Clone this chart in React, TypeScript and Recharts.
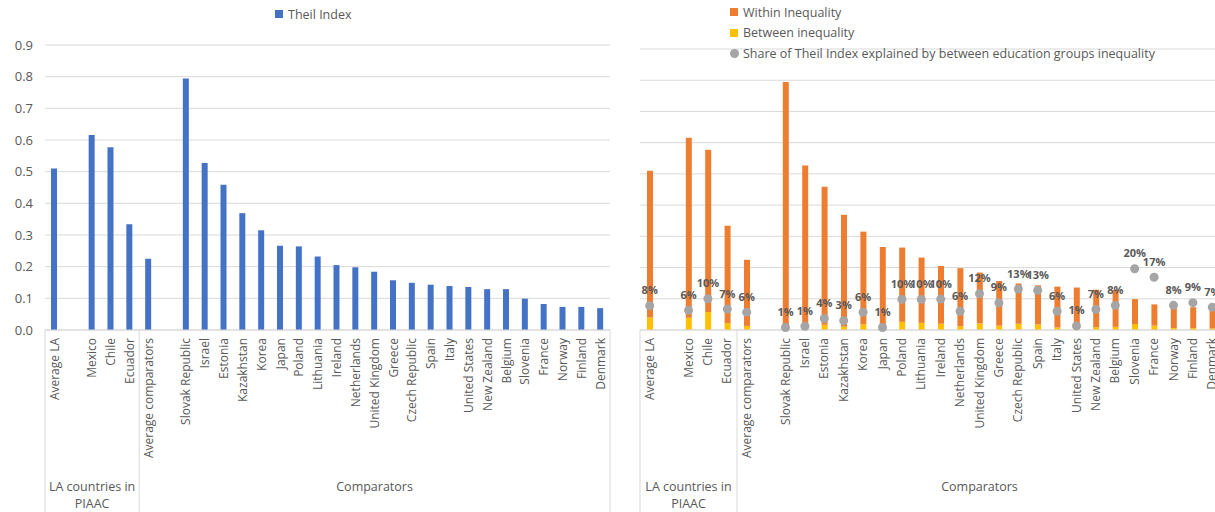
import React from "react";
import { BarChart, ComposedChart, Bar, Scatter, XAxis, YAxis, CartesianGrid, Legend, LabelList } from "recharts";

const countries = [
  "Average LA", "", "Mexico", "Chile", "Ecuador", "Average comparators", "",
  "Slovak Republic", "Israel", "Estonia", "Kazakhstan", "Korea", "Japan", "Poland",
  "Lithuania", "Ireland", "Netherlands", "United Kingdom", "Greece", "Czech Republic",
  "Spain", "Italy", "United States", "New Zealand", "Belgium", "Slovenia", "France",
  "Norway", "Finland", "Denmark",
];

const theil = [
  0.510, null, 0.616, 0.577, 0.334, 0.225, null,
  0.794, 0.527, 0.459, 0.369, 0.315, 0.266, 0.264,
  0.232, 0.205, 0.198, 0.184, 0.157, 0.149,
  0.143, 0.139, 0.136, 0.129, 0.129, 0.099, 0.082,
  0.073, 0.073, 0.069,
];

const within = [
  0.470, null, 0.577, 0.519, 0.312, 0.212, null,
  0.788, 0.521, 0.442, 0.358, 0.297, 0.264, 0.238,
  0.209, 0.185, 0.186, 0.163, 0.143, 0.129,
  0.125, 0.131, 0.134, 0.120, 0.119, 0.080, 0.068,
  0.067, 0.067, 0.064,
];

const between = [
  0.040, null, 0.039, 0.058, 0.022, 0.013, null,
  0.006, 0.006, 0.017, 0.011, 0.018, 0.002, 0.026,
  0.023, 0.020, 0.012, 0.021, 0.014, 0.020,
  0.018, 0.008, 0.002, 0.009, 0.010, 0.019, 0.014,
  0.006, 0.006, 0.005,
];

const share = [
  0.078, null, 0.063, 0.100, 0.067, 0.057, null,
  0.008, 0.012, 0.037, 0.030, 0.057, 0.008, 0.098,
  0.098, 0.099, 0.060, 0.116, 0.087, 0.131,
  0.127, 0.060, 0.013, 0.066, 0.079, 0.196, 0.169,
  0.079, 0.0875, 0.073,
];

const groups = [
  { label: ["LA countries in", "PIAAC"], size: 5 },
  { label: ["Comparators"], size: 25 },
];

const yTicks = [0, 0.1, 0.2, 0.3, 0.4, 0.5, 0.6, 0.7, 0.8, 0.9];

const leftData = countries.map((name, i) => ({ name, theil: theil[i] }));
const rightData = countries.map((name, i) => ({
  name,
  within: within[i],
  between: between[i],
  share: share[i],
}));

const FONT = "'Open Sans', sans-serif";
const TEXT = "#595959";
const GRID = "#D9D9D9";

const CategoryTick = (props: any) => {
  const { x, y, payload, band } = props;
  const i = payload.index;
  let start = 0;
  let groupEl: React.ReactNode = null;
  groups.forEach((g, gi) => {
    if (i === start) {
      const x0 = x - band / 2;
      const w = g.size * band;
      const last = gi === groups.length - 1;
      groupEl = (
        <g>
          <line x1={x0} x2={x0} y1={y - 8} y2={y + 190} stroke={GRID} />
          {last && <line x1={x0 + w} x2={x0 + w} y1={y - 8} y2={y + 190} stroke={GRID} />}
          {g.label.map((t, k) => (
            <text key={k} x={x0 + w / 2} y={y + 153 + k * 17} textAnchor="middle" fontSize={12.5} fill={TEXT} fontFamily={FONT}>
              {t}
            </text>
          ))}
        </g>
      );
    }
    start += g.size;
  });
  return (
    <g>
      {groupEl}
      <text
        x={x}
        y={y}
        transform={`rotate(-90 ${x} ${y})`}
        textAnchor="end"
        dy="0.35em"
        fontSize={12}
        fill={TEXT}
        fontFamily={FONT}
      >
        {payload.value}
      </text>
    </g>
  );
};

const makeLegend = (order: string[]) => (props: any) => {
  const items = [...(props.payload || [])].sort(
    (a: any, b: any) => order.indexOf(a.value) - order.indexOf(b.value)
  );
  return (
    <div style={{ fontFamily: FONT, fontSize: 12.5, color: TEXT }}>
      {items.map((it: any) => (
        <div key={it.value} style={{ display: "flex", alignItems: "center", height: 20.5, whiteSpace: "nowrap" }}>
          {it.type === "circle" ? (
            <span style={{ width: 9, height: 9, borderRadius: 5, background: it.color, marginRight: 4, display: "inline-block" }} />
          ) : (
            <span style={{ width: 8, height: 8, background: it.color, marginRight: 5, display: "inline-block" }} />
          )}
          {it.value}
        </div>
      ))}
    </div>
  );
};

const pct = (v: any) => (v == null ? "" : `${Math.round(v * 100)}%`);

export default function App() {
  return (
    <div style={{ position: "absolute", left: 0, top: 0, width: 1215, height: 512, overflow: "hidden", background: "#fff" }}>
      <div style={{ position: "absolute", left: 0, top: 0 }}>
        <BarChart width={620} height={512} data={leftData} margin={{ top: 45, right: 10, bottom: 0, left: 0 }}>
          <CartesianGrid vertical={false} stroke={GRID} />
          <XAxis
            dataKey="name"
            interval={0}
            height={182}
            axisLine={{ stroke: GRID }}
            tickLine={false}
            tick={<CategoryTick band={565 / 30} />}
          />
          <YAxis
            width={45}
            domain={[0, 0.9]}
            ticks={yTicks}
            tickFormatter={(v: number) => v.toFixed(1)}
            axisLine={false}
            tickLine={false}
            tickMargin={6}
            tick={{ fontSize: 13, fill: TEXT, fontFamily: FONT }}
          />
          <Legend
            layout="vertical"
            align="center"
            verticalAlign="middle"
            wrapperStyle={{ top: 4, left: 275, width: "auto" }}
            content={makeLegend(["Theil Index"])}
          />
          <Bar dataKey="theil" name="Theil Index" fill="#4472C4" barSize={6} isAnimationActive={false} />
        </BarChart>
      </div>
      <div style={{ position: "absolute", left: 620, top: 0 }}>
        <ComposedChart width={602} height={512} data={rightData} margin={{ top: 49, right: 0, bottom: 0, left: 20 }}>
          <CartesianGrid vertical={false} stroke={GRID} />
          <XAxis
            dataKey="name"
            interval={0}
            height={182}
            axisLine={{ stroke: GRID }}
            tickLine={false}
            tick={<CategoryTick band={582 / 30} />}
          />
          <YAxis hide domain={[0, 0.9]} ticks={yTicks} />
          <Legend
            layout="vertical"
            align="center"
            verticalAlign="middle"
            wrapperStyle={{ top: 2, left: 110, width: "auto" }}
            content={makeLegend([
              "Within Inequality",
              "Between inequality",
              "Share of Theil Index explained by between education groups inequality",
            ])}
          />
          <Bar dataKey="between" name="Between inequality" stackId="s" fill="#FFC000" barSize={6} isAnimationActive={false} />
          <Bar dataKey="within" name="Within Inequality" stackId="s" fill="#ED7D31" barSize={6} isAnimationActive={false} />
          <Scatter
            dataKey="share"
            name="Share of Theil Index explained by between education groups inequality"
            fill="#A5A5A5"
            legendType="circle"
            isAnimationActive={false}
            shape={(p: any) => (p.payload.share == null ? <g /> : <circle cx={p.cx} cy={p.cy} r={4.5} fill="#A5A5A5" />)}
          >
            <LabelList
              dataKey="share"
              position="top"
              offset={7}
              formatter={pct}
              style={{ fontSize: 11, fontWeight: 700, fill: TEXT, fontFamily: FONT }}
            />
          </Scatter>
        </ComposedChart>
      </div>
    </div>
  );
}
